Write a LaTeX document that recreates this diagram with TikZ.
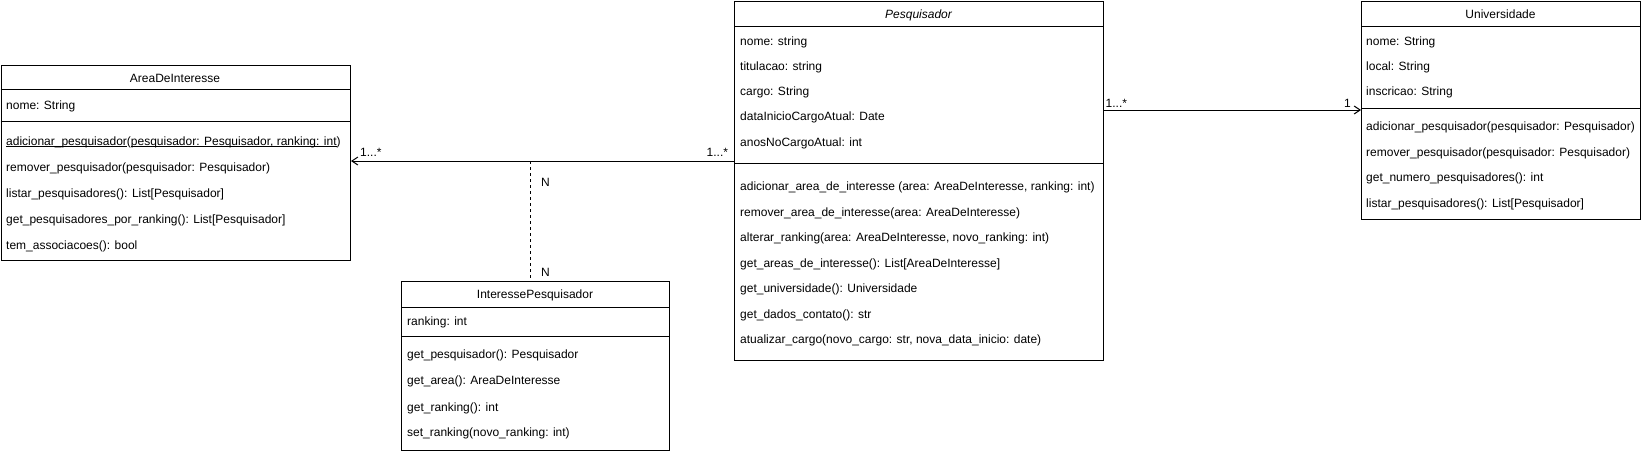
\documentclass[tikz,border=0pt]{standalone}
\usepackage{fontspec}
\setmainfont{Liberation Sans}
\usetikzlibrary{arrows.meta}
\newcommand\myul[1]{\setbox0\hbox{#1}\rlap{\rule[-2pt]{\wd0}{0.9pt}}\box0}
\tikzset{
  classbox/.style={draw, line width=1pt, inner sep=0pt, anchor=north west},
  divider/.style={line width=1pt},
  rowtext/.style={inner sep=0pt, anchor=base west, font=\fontsize{12pt}{14pt}\selectfont},
  headtext/.style={inner sep=0pt, anchor=base, font=\fontsize{12pt}{14pt}\selectfont},
  labeltext/.style={inner sep=0pt, anchor=base west, font=\fontsize{12pt}{14pt}\selectfont},
  assoc/.style={line width=1pt, -{Straight Barb[length=6pt,width=8pt,line width=1pt]}},
  dashline/.style={line width=1pt, dash pattern=on 3pt off 3pt},
}
\begin{document}
\begin{tikzpicture}[x=1pt,y=-1pt]
\useasboundingbox (0,0) rectangle (1641,451);

% ---------------- AreaDeInteresse ----------------
\node[classbox, minimum width=349.5pt, minimum height=195pt] (area) at (0.5,65) {};
\draw[divider] (area.west |- 0,89) -- (area.east |- 0,89);
\draw[divider] (area.west |- 0,121) -- (area.east |- 0,121);
\node[headtext] (areaT) at (175,82) {AreaDeInteresse};
\node[rowtext] (areaA1) at (6,109) {nome: String};
\node[rowtext] (areaM1) at (6,145) {\myul{adicionar\_pesquisador}(\myul{pesquisador: Pesquisador, ranking: int})};
\node[rowtext] (areaM2) at (6,171) {remover\_pesquisador(pesquisador: Pesquisador)};
\node[rowtext] (areaM3) at (6,197) {listar\_pesquisadores(): List[Pesquisador]};
\node[rowtext] (areaM4) at (6,223) {get\_pesquisadores\_por\_ranking(): List[Pesquisador]};
\node[rowtext] (areaM5) at (6,249) {tem\_associacoes(): bool};

% ---------------- Pesquisador ----------------
\node[classbox, minimum width=369pt, minimum height=359pt] (pesq) at (734,1) {};
\draw[divider] (pesq.west |- 0,26) -- (pesq.east |- 0,26);
\draw[divider] (pesq.west |- 0,163) -- (pesq.east |- 0,163);
\node[headtext] (pesqT) at (918.5,18) {\itshape Pesquisador};
\node[rowtext] (pesqA1) at (740,45) {nome: string};
\node[rowtext] (pesqA2) at (740,70.2) {titulacao: string};
\node[rowtext] (pesqA3) at (740,95.5) {cargo: String};
\node[rowtext] (pesqA4) at (740,120.7) {dataInicioCargoAtual: Date};
\node[rowtext] (pesqA5) at (740,146) {anosNoCargoAtual: int};
\node[rowtext] (pesqM1) at (740,190.5) {adicionar\_area\_de\_interesse (area: AreaDeInteresse, ranking: int)};
\node[rowtext] (pesqM2) at (740,216) {remover\_area\_de\_interesse(area: AreaDeInteresse)};
\node[rowtext] (pesqM3) at (740,241.5) {alterar\_ranking(area: AreaDeInteresse, novo\_ranking: int)};
\node[rowtext] (pesqM4) at (740,267) {get\_areas\_de\_interesse(): List[AreaDeInteresse]};
\node[rowtext] (pesqM5) at (740,292.5) {get\_universidade(): Universidade};
\node[rowtext] (pesqM6) at (740,318) {get\_dados\_contato(): str};
\node[rowtext] (pesqM7) at (740,343.5) {atualizar\_cargo(novo\_cargo: str, nova\_data\_inicio: date)};

% ---------------- Universidade ----------------
\node[classbox, minimum width=279pt, minimum height=218.3pt] (univ) at (1361,1) {};
\draw[divider] (univ.west |- 0,26) -- (univ.east |- 0,26);
\draw[divider] (univ.west |- 0,108.3) -- (univ.east |- 0,108.3);
\node[headtext] (univT) at (1500.5,18) {Universidade};
\node[rowtext] (univA1) at (1366,45) {nome: String};
\node[rowtext] (univA2) at (1366,70.2) {local: String};
\node[rowtext] (univA3) at (1366,95.2) {inscricao: String};
\node[rowtext] (univM1) at (1366,130.5) {adicionar\_pesquisador(pesquisador: Pesquisador)};
\node[rowtext] (univM2) at (1366,156.2) {remover\_pesquisador(pesquisador: Pesquisador)};
\node[rowtext] (univM3) at (1366,181.8) {get\_numero\_pesquisadores(): int};
\node[rowtext] (univM4) at (1366,207.2) {listar\_pesquisadores(): List[Pesquisador]};

% ---------------- InteressePesquisador ----------------
\node[classbox, minimum width=268pt, minimum height=169pt] (ip) at (401,281) {};
\draw[divider] (ip.west |- 0,307) -- (ip.east |- 0,307);
\draw[divider] (ip.west |- 0,336) -- (ip.east |- 0,336);
\node[headtext] (ipT) at (535,298.5) {InteressePesquisador};
\node[rowtext] (ipA1) at (407,325) {ranking: int};
\node[rowtext] (ipM1) at (407,358.5) {get\_pesquisador(): Pesquisador};
\node[rowtext] (ipM2) at (407,384.5) {get\_area(): AreaDeInteresse};
\node[rowtext] (ipM3) at (407,411) {get\_ranking(): int};
\node[rowtext] (ipM4) at (407,436.5) {set\_ranking(novo\_ranking: int)};

% ---------------- Connectors ----------------
\draw[assoc] (pesq.west |- 0,161) -- (area.east |- 0,161);
\coordinate (mid) at (530.7,161);
\draw[dashline] (mid) -- (mid |- ip.north);
\draw[assoc] (pesq.east |- 0,110) -- (univ.west |- 0,110);

% ---------------- Labels ----------------
\node[labeltext] (l1) at (360,156.5) {1...*};
\node[labeltext] (l2) at (706.5,156.5) {1...*};
\node[labeltext] (l3) at (541,186) {N};
\node[labeltext] (l4) at (541,276) {N};
\node[labeltext] (l5) at (1105.5,107) {1...*};
\node[labeltext, anchor=base east] (l6) at (1351,107.5) {1};
\end{tikzpicture}
\end{document}
